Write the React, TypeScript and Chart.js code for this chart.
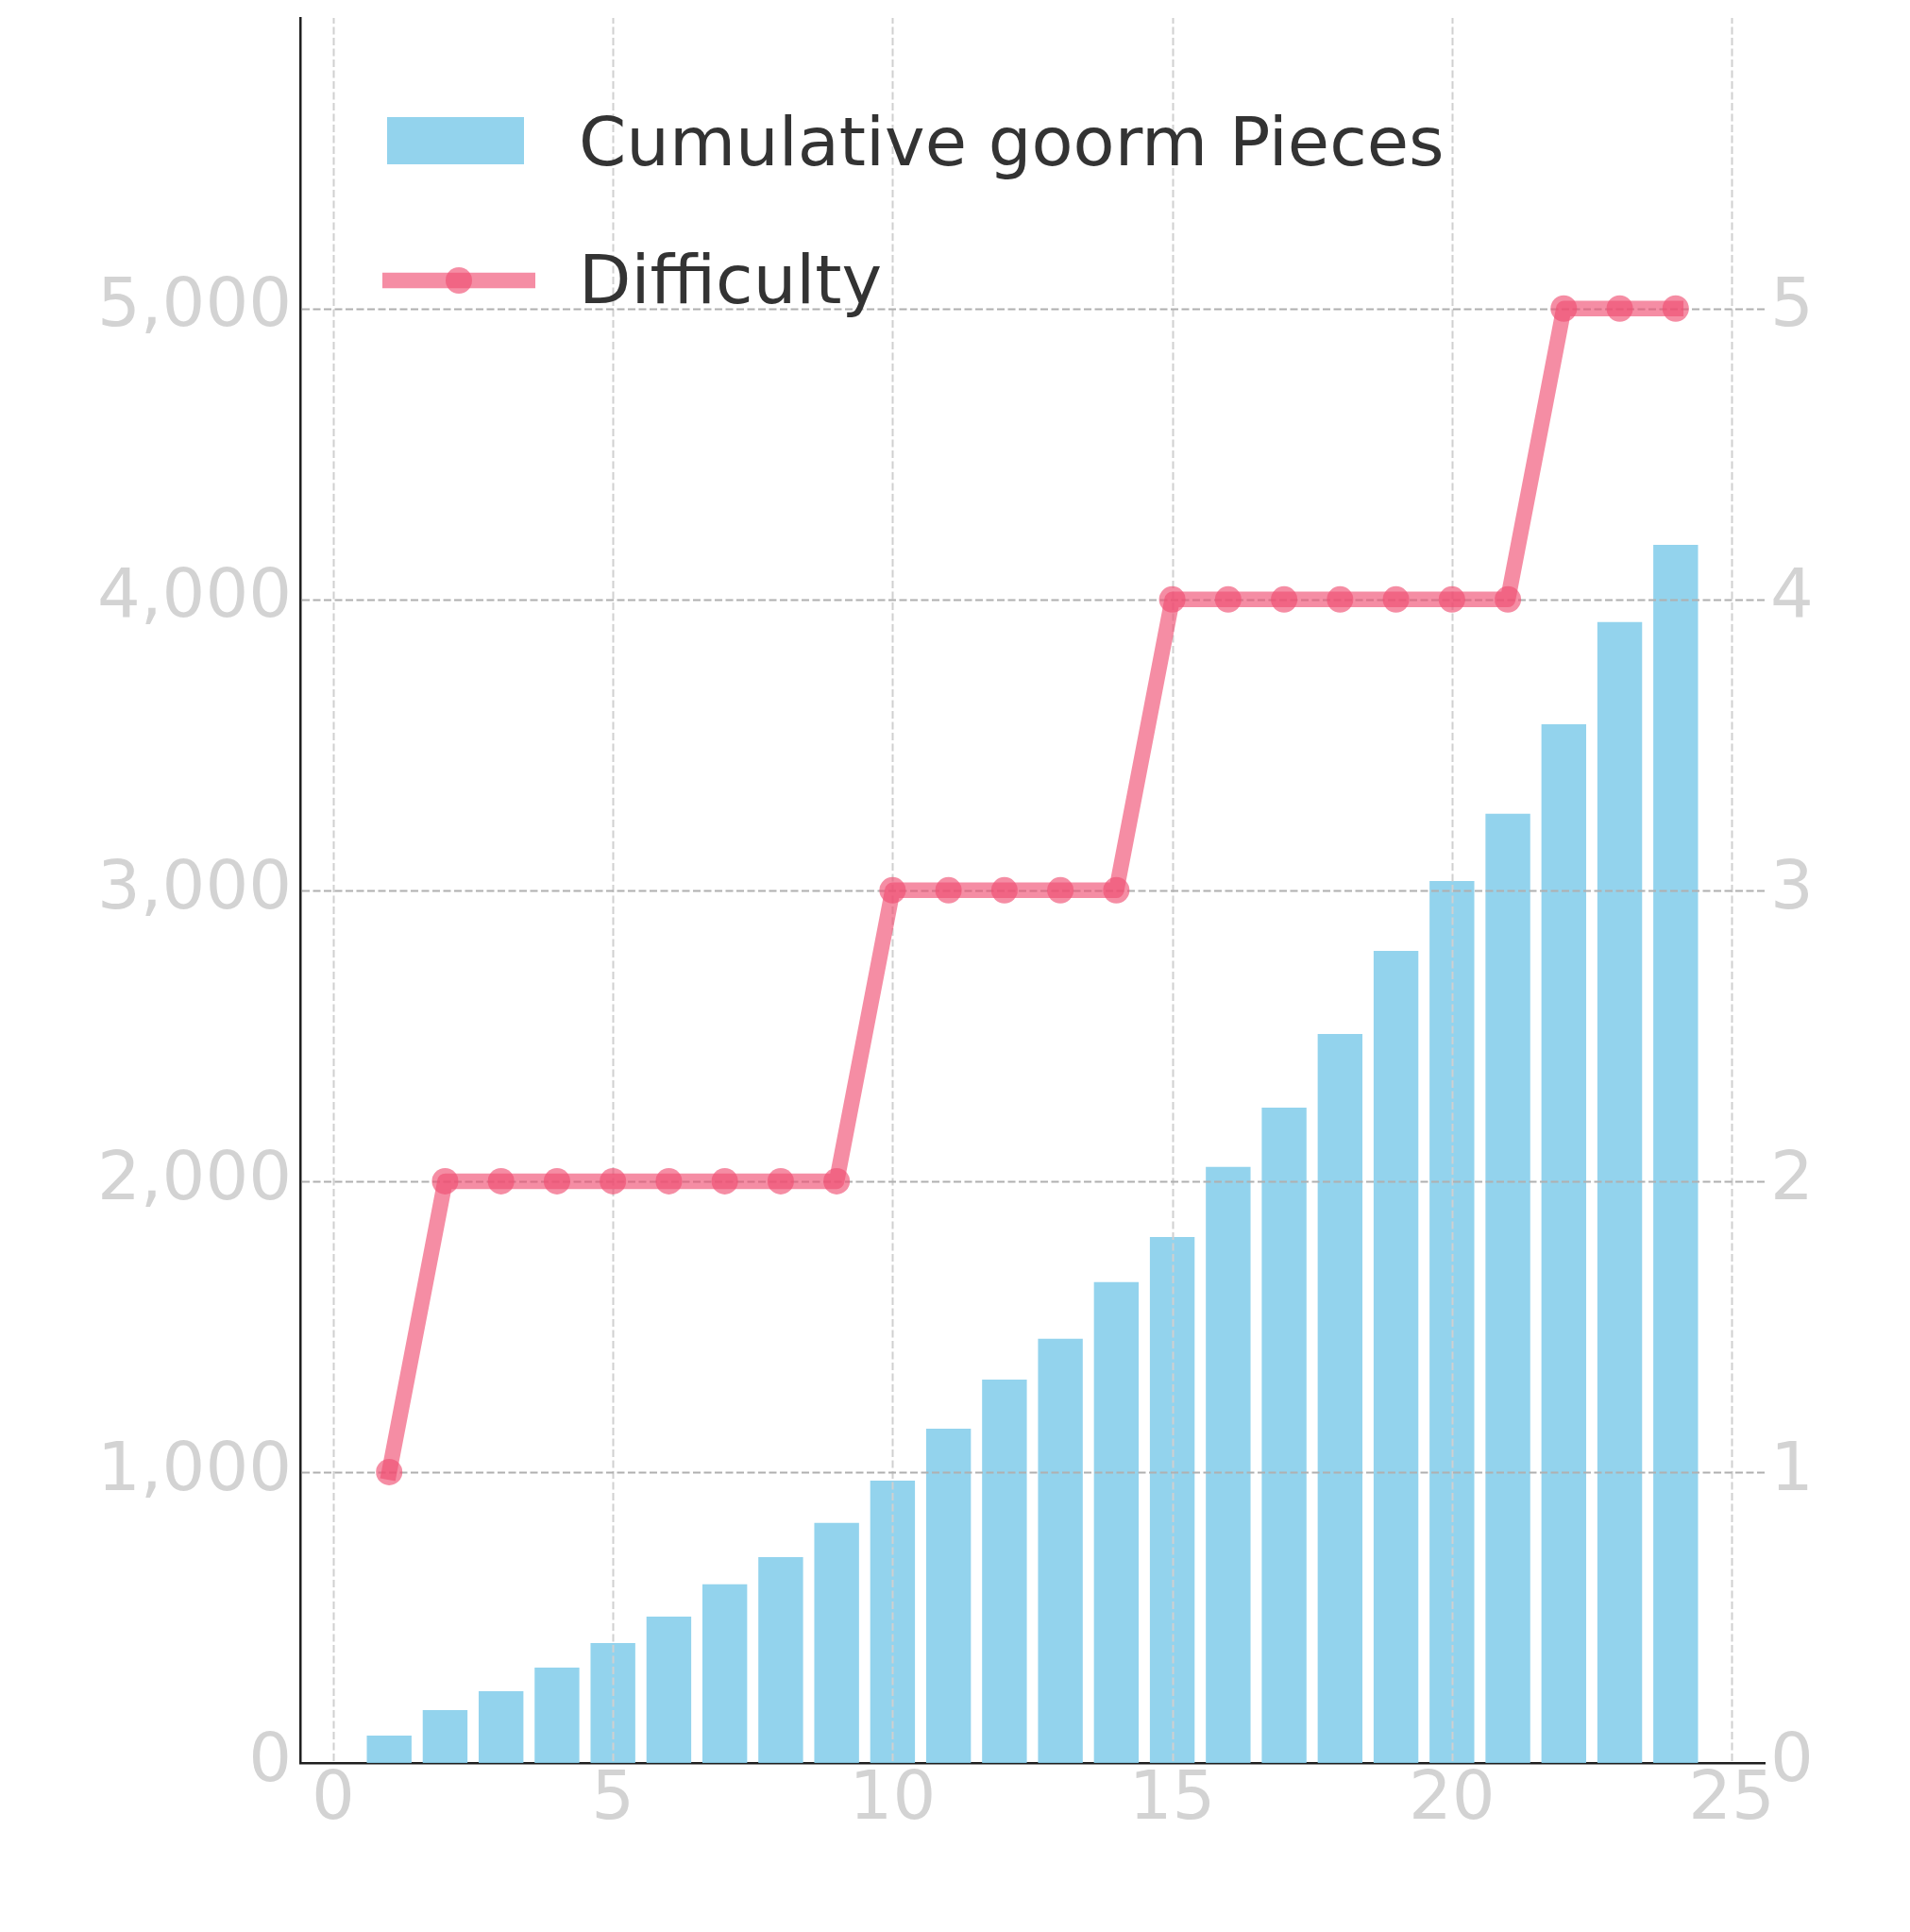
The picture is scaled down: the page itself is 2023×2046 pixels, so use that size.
import { useEffect, useRef } from "react"
import { Chart, registerables } from "chart.js"

Chart.register(...registerables)

// stage number on the x axis
const stages = [1, 2, 3, 4, 5, 6, 7, 8, 9, 10, 11, 12, 13, 14, 15, 16, 17, 18, 19, 20, 21, 22, 23, 24]
// bars, left axis
const cumulativePieces = [
  94, 182, 247, 328, 412, 503, 614, 708, 825, 971, 1149, 1318, 1458, 1653, 1808, 2049, 2253, 2506, 2792,
  3032, 3263, 3571, 3922, 4188,
]
// line, right axis
const difficulty = [1, 2, 2, 2, 2, 2, 2, 2, 2, 3, 3, 3, 3, 3, 4, 4, 4, 4, 4, 4, 4, 5, 5, 5]

const xTicks = [0, 5, 10, 15, 20, 25]
const leftTicks = [0, 1000, 2000, 3000, 4000, 5000]
const rightTicks = [0, 1, 2, 3, 4, 5]

const BAR_COLOR = "rgba(135, 206, 235, 0.9)"
const LINE_COLOR = "rgba(240, 80, 115, 0.65)"
const TICK_COLOR = "#d3d3d3"
const FONT = "DejaVu Sans"

// grid goes above the bars but below the line (like the twin axes in the original)
const gridPlugin = {
  id: "gridBetween",
  beforeDatasetDraw(chart: any, args: any) {
    if (args.meta.type !== "line") return
    const { ctx, chartArea, scales } = chart
    ctx.save()
    ctx.lineWidth = 2
    ctx.setLineDash([8, 3.5])
    ctx.strokeStyle = "#d0d0d0"
    for (const t of scales.x.ticks) {
      const px = Math.round(scales.x.getPixelForValue(t.value)) + 0.5
      ctx.beginPath()
      ctx.moveTo(px, chartArea.bottom - 2)
      ctx.lineTo(px, chartArea.top)
      ctx.stroke()
    }
    ctx.strokeStyle = "#b0b0b0"
    for (const t of scales.y.ticks) {
      if (t.value === 0) continue
      const py = Math.round(scales.y.getPixelForValue(t.value)) + 0.5
      ctx.beginPath()
      ctx.moveTo(chartArea.left + 2, py)
      ctx.lineTo(chartArea.right, py)
      ctx.stroke()
    }
    ctx.restore()
  },
}

const legendPlugin = {
  id: "plainLegend",
  afterDraw(chart: any) {
    const { ctx, chartArea } = chart
    const [bars, line] = chart.data.datasets
    const left = chartArea.left
    const top = chartArea.top
    ctx.save()
    // bar patch
    ctx.fillStyle = bars.backgroundColor
    ctx.fillRect(left + 92, top + 105, 145, 50)
    // line handle with marker
    const ly = top + 278
    ctx.strokeStyle = line.borderColor
    ctx.lineWidth = line.borderWidth
    ctx.lineCap = "butt"
    ctx.beginPath()
    ctx.moveTo(left + 87, ly)
    ctx.lineTo(left + 249, ly)
    ctx.stroke()
    ctx.fillStyle = line.pointBackgroundColor
    ctx.beginPath()
    ctx.arc(left + 168, ly, line.pointRadius, 0, Math.PI * 2)
    ctx.fill()
    // labels
    ctx.fillStyle = "#333333"
    ctx.font = `72px "${FONT}"`
    ctx.textBaseline = "middle"
    ctx.textAlign = "left"
    ctx.fillText(bars.label, left + 295, top + 137)
    ctx.fillText(line.label, left + 295, ly + 5)
    ctx.restore()
  },
}

const noEdgePadding = (scale: any) => {
  scale.paddingTop = 0
  scale.paddingBottom = 0
  scale.paddingLeft = 0
  scale.paddingRight = 0
}

export default function App() {
  const canvasRef = useRef<HTMLCanvasElement>(null)
  const chartRef = useRef<Chart | null>(null)

  useEffect(() => {
    if (!canvasRef.current) return
    if (chartRef.current) chartRef.current.destroy()

    const tickFont = { family: FONT, size: 72, lineHeight: 1 }

    chartRef.current = new Chart(canvasRef.current, {
      type: "bar",
      data: {
        datasets: [
          {
            type: "bar",
            label: "Cumulative goorm Pieces",
            data: stages.map((s, i) => ({ x: s, y: cumulativePieces[i] })),
            backgroundColor: BAR_COLOR,
            borderWidth: 0,
            categoryPercentage: 1,
            barPercentage: 0.8,
            yAxisID: "y",
            order: 1,
          },
          {
            type: "line",
            label: "Difficulty",
            data: stages.map((s, i) => ({ x: s, y: difficulty[i] })),
            borderColor: LINE_COLOR,
            borderWidth: 16.5,
            borderCapStyle: "square",
            borderJoinStyle: "round",
            pointRadius: 14,
            pointBackgroundColor: LINE_COLOR,
            pointBorderWidth: 0,
            tension: 0,
            yAxisID: "y1",
            order: 0,
          },
        ] as any,
      },
      options: {
        animation: false,
        responsive: true,
        maintainAspectRatio: false,
        devicePixelRatio: 1,
        events: [],
        layout: { padding: { top: 19, left: 0, right: 0, bottom: 0 } },
        plugins: {
          legend: { display: false },
          tooltip: { enabled: false },
        },
        scales: {
          x: {
            type: "linear",
            min: -0.59,
            max: 25.59,
            offset: false,
            grid: { display: false, drawTicks: false, offset: false },
            border: { display: true, color: "#1f1f1f", width: 2.5 },
            ticks: { color: TICK_COLOR, font: tickFont, padding: 4, maxRotation: 0, autoSkip: false },
            afterBuildTicks: (scale: any) => {
              scale.ticks = xTicks.map((v) => ({ value: v }))
            },
            afterFit: (scale: any) => {
              scale.height = 179
              noEdgePadding(scale)
            },
          },
          y: {
            type: "linear",
            position: "left",
            min: 0,
            max: 5999,
            grid: { display: false, drawTicks: false },
            border: { display: true, color: "#1f1f1f", width: 2.5 },
            ticks: {
              color: TICK_COLOR,
              font: tickFont,
              padding: 9,
              callback: (v: any) => Number(v).toLocaleString("en-US"),
            },
            afterBuildTicks: (scale: any) => {
              scale.ticks = leftTicks.map((v) => ({ value: v }))
            },
            afterFit: (scale: any) => {
              scale.width = 318
              noEdgePadding(scale)
            },
          },
          y1: {
            type: "linear",
            position: "right",
            min: 0,
            max: 5.999,
            grid: { display: false, drawTicks: false },
            border: { display: false },
            ticks: { color: TICK_COLOR, font: tickFont, padding: 6, callback: (v: any) => String(v) },
            afterBuildTicks: (scale: any) => {
              scale.ticks = rightTicks.map((v) => ({ value: v }))
            },
            afterFit: (scale: any) => {
              scale.width = 154
              noEdgePadding(scale)
            },
          },
        },
      },
      plugins: [gridPlugin, legendPlugin],
    })

    return () => {
      if (chartRef.current) {
        chartRef.current.destroy()
        chartRef.current = null
      }
    }
  }, [])

  return (
    <div style={{ position: "absolute", left: 0, top: 0, width: 2023, height: 2046, background: "#fff" }}>
      <canvas ref={canvasRef} />
    </div>
  )
}
